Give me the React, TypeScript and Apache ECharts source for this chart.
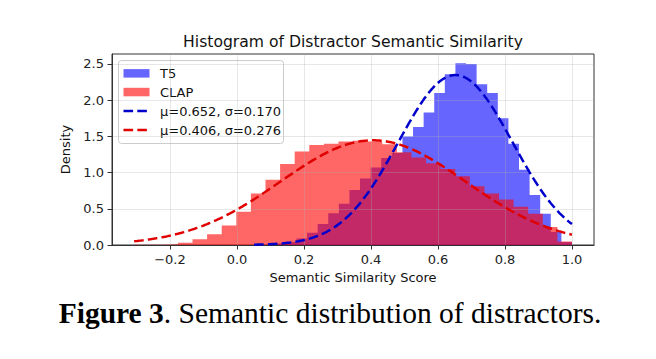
import React, { useEffect, useRef } from "react";
import * as echarts from "echarts";

// ---- data ----
const T5_RANGE = [0.051, 1.0]; // histogram bin range (30 bins)
const T5_DENSITY = [
  0.004, 0.008, 0.02, 0.04, 0.09, 0.17, 0.29, 0.44, 0.57, 0.76,
  0.92, 1.07, 1.2, 1.27, 1.5, 1.63, 1.83, 2.1, 2.36, 2.51,
  2.5, 2.22, 2.1, 1.75, 1.4, 1.04, 0.69, 0.43, 0.18, 0.04,
];
const CLAP_RANGE = [-0.307, 1.0];
const CLAP_DENSITY = [
  0.003, 0.005, 0.01, 0.03, 0.08, 0.15, 0.27, 0.46, 0.71, 0.9,
  1.12, 1.29, 1.38, 1.4, 1.43, 1.44, 1.43, 1.39, 1.28, 1.21,
  1.13, 1.05, 0.95, 0.81, 0.71, 0.63, 0.53, 0.43, 0.25, 0.05,
];
const T5_FIT = { mu: 0.652, sigma: 0.17 };
const CLAP_FIT = { mu: 0.406, sigma: 0.276 };
const X_TICKS = [-0.2, 0.0, 0.2, 0.4, 0.6, 0.8, 1.0];
const Y_TICKS = [0.0, 0.5, 1.0, 1.5, 2.0, 2.5];
const SERIES_NAMES = ["T5", "CLAP", "μ=0.652, σ=0.170", "μ=0.406, σ=0.276"];
const TITLE = "Histogram of Distractor Semantic Similarity";
const X_LABEL = "Semantic Similarity Score";
const Y_LABEL = "Density";

const X_MIN = -0.3731;
const X_MAX = 1.0657;
const Y_MIN = 0;
const Y_MAX = 2.638;

function stepPoints(range: number[], dens: number[]) {
  const n = dens.length;
  const w = (range[1] - range[0]) / n;
  const pts = dens.map((d, i) => [range[0] + i * w, d]);
  pts.push([range[1], dens[n - 1]]);
  return pts;
}

function pdfPoints(fit: { mu: number; sigma: number }, range: number[], n = 300) {
  const pts: number[][] = [];
  for (let i = 0; i <= n; i++) {
    const x = range[0] + ((range[1] - range[0]) * i) / n;
    const z = (x - fit.mu) / fit.sigma;
    pts.push([x, Math.exp(-0.5 * z * z) / (fit.sigma * Math.sqrt(2 * Math.PI))]);
  }
  return pts;
}

const FONT = "DejaVu Sans";
const fmt = (v: number) => Number(v).toFixed(1).replace("-", "\u2212");

export default function App() {
  const ref = useRef<HTMLDivElement>(null);
  useEffect(() => {
    if (!ref.current) return;
    const chart = echarts.init(ref.current, undefined, { renderer: "svg" });
    const blueFill = "rgba(0,0,255,0.6)";
    const redFill = "rgba(255,0,0,0.6)";
    const blueLine = "#0000cc";
    const redLine = "#e00000";
    const dash = [9.6, 4.2];
    const legendX = 118.5;
    const legendY = 60.5;
    const rows = [73.3, 92, 111, 130];
    const legendChildren: any[] = [
      {
        type: "rect",
        shape: { x: legendX, y: legendY, width: 165, height: 83, r: 3 },
        style: { fill: "rgba(255,255,255,0.8)", stroke: "#cccccc", lineWidth: 1 },
      },
    ];
    const kinds = [
      { kind: "patch", color: blueFill },
      { kind: "patch", color: redFill },
      { kind: "line", color: blueLine },
      { kind: "line", color: redLine },
    ];
    kinds.forEach((k, i) => {
      const cy = rows[i];
      if (k.kind === "patch") {
        legendChildren.push({
          type: "rect",
          shape: { x: 123.5, y: cy - 4.2, width: 26, height: 8.5 },
          style: { fill: k.color },
        });
      } else {
        legendChildren.push({
          type: "line",
          shape: { x1: 123.5, y1: cy, x2: 149.5, y2: cy },
          style: { stroke: k.color, lineWidth: 2.5, lineDash: dash },
        });
      }
      legendChildren.push({
        type: "text",
        x: 160,
        y: cy,
        style: {
          text: SERIES_NAMES[i],
          fontSize: 13,
          fontFamily: FONT,
          fill: "#111",
          textVerticalAlign: "middle",
          textAlign: "left",
        },
      });
    });

    const axisCommon = {
      axisTick: { show: true, length: 4.5, lineStyle: { color: "#333", width: 1 } },
      axisLine: { show: true, onZero: false, lineStyle: { color: "#333", width: 1 } },
      splitLine: { show: true, lineStyle: { color: "rgba(176,176,176,0.3)", width: 1 } },
    };

    chart.setOption({
      animation: false,
      backgroundColor: "#ffffff",
      grid: {
        left: 112,
        right: 62,
        top: 54,
        bottom: 114,
        show: true,
        borderColor: "#333",
        borderWidth: 1,
        backgroundColor: "transparent",
      },
      xAxis: {
        type: "value",
        min: X_MIN,
        max: X_MAX,
        z: 3,
        name: X_LABEL,
        nameLocation: "middle",
        nameGap: 24,
        nameTextStyle: { fontSize: 13, fontFamily: FONT, color: "#111" },
        ...axisCommon,
        axisTick: { ...axisCommon.axisTick, customValues: X_TICKS },
        axisLabel: {
          customValues: X_TICKS,
          formatter: fmt,
          fontSize: 13,
          fontFamily: FONT,
          color: "#222",
          margin: 8,
        },
      },
      yAxis: {
        type: "value",
        min: Y_MIN,
        max: Y_MAX,
        z: 3,
        name: Y_LABEL,
        nameLocation: "middle",
        nameGap: 28,
        nameRotate: 90,
        nameTextStyle: { fontSize: 13, fontFamily: FONT, color: "#111" },
        ...axisCommon,
        axisTick: { ...axisCommon.axisTick, customValues: Y_TICKS },
        axisLabel: {
          customValues: Y_TICKS,
          formatter: fmt,
          fontSize: 13,
          fontFamily: FONT,
          color: "#222",
          margin: 8,
        },
      },
      series: [
        {
          name: SERIES_NAMES[0],
          type: "line",
          step: "end",
          data: stepPoints(T5_RANGE, T5_DENSITY),
          symbol: "none",
          silent: true,
          z: 2,
          lineStyle: { width: 0, opacity: 0 },
          areaStyle: { color: blueFill, opacity: 1 },
        },
        {
          name: SERIES_NAMES[1],
          type: "line",
          step: "end",
          data: stepPoints(CLAP_RANGE, CLAP_DENSITY),
          symbol: "none",
          silent: true,
          z: 2,
          lineStyle: { width: 0, opacity: 0 },
          areaStyle: { color: redFill, opacity: 1 },
        },
        {
          name: SERIES_NAMES[2],
          type: "line",
          data: pdfPoints(T5_FIT, T5_RANGE),
          symbol: "none",
          silent: true,
          z: 5,
          lineStyle: { color: blueLine, width: 2.5, type: dash },
        },
        {
          name: SERIES_NAMES[3],
          type: "line",
          data: pdfPoints(CLAP_FIT, CLAP_RANGE),
          symbol: "none",
          silent: true,
          z: 5,
          lineStyle: { color: redLine, width: 2.5, type: dash },
        },
      ],
      graphic: [
        {
          type: "text",
          x: 353,
          y: 42,
          z: 100,
          style: {
            text: TITLE,
            fontSize: 15.6,
            fontFamily: FONT,
            fill: "#111",
            textAlign: "center",
            textVerticalAlign: "middle",
          },
        },
        { type: "group", z: 100, children: legendChildren },
        {
          type: "text",
          x: 330,
          y: 313,
          z: 100,
          style: {
            text: "{b|Figure 3}. Semantic distribution of distractors.",
            fontSize: 29.5,
            fontFamily: "Liberation Serif",
            fill: "#000",
            textAlign: "center",
            textVerticalAlign: "middle",
            rich: {
              b: { fontSize: 29.5, fontFamily: "Liberation Serif", fontWeight: "bold", fill: "#000" },
            },
          },
        },
      ],
    });
    return () => chart.dispose();
  }, []);
  return (
    <div
      ref={ref}
      style={{ position: "absolute", left: 0, top: 0, width: 656, height: 359, background: "#fff" }}
    />
  );
}
